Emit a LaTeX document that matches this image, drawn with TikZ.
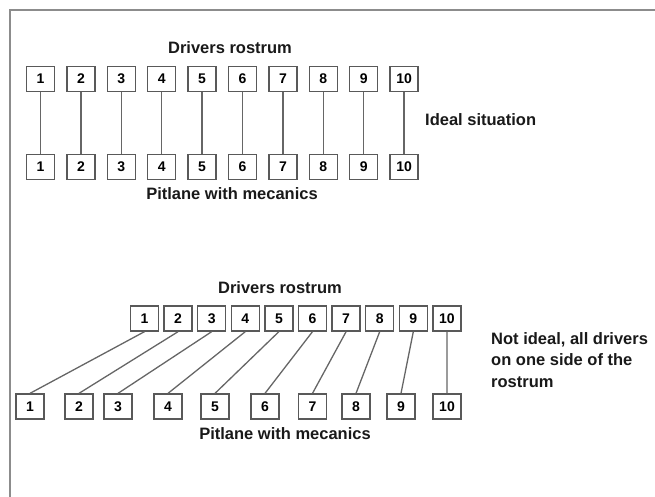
\documentclass[tikz,border=0pt]{standalone}
\usepackage{fontspec}
\setmainfont{Liberation Sans}
\usetikzlibrary{positioning}

\begin{document}
\begin{tikzpicture} [x = 1pt, y = -1pt, on grid,
    slot/.style = {draw = black!65, line width = 1.3pt, minimum width = 28pt, minimum height = 25pt,
                   inner sep = 0pt, text = black, font = \bfseries\fontsize{14}{14}\selectfont},
    txt/.style = {text = black!90, inner sep = 0pt, font = \bfseries\fontsize{16.5}{21.5}\selectfont},
    link/.style = {draw = black!60, line width = 1.3pt}]

    \useasboundingbox (0,0) rectangle (655,497);
    \draw [black!45, line width = 2.2pt] (10,497) -- (10,10) -- (655,10);

    % ideal situation
    \node (t1) [slot] at (40.5,79) {1};
    \node (b1) [slot] at (40.5,167) {1};
    \foreach \i [count = \j] in {2,...,10} {
        \node (t\i) [slot, right = 40.4pt of t\j] {\i};
        \node (b\i) [slot, right = 40.4pt of b\j] {\i};
    }
    \foreach \i in {1,...,10}
        \draw [link] (t\i) -- (b\i);

    \node (ros1) [txt] at (230,48) {Drivers rostrum};
    \node (pit1) [txt] at (232,194) {Pitlane with mecanics};
    \node (ideal) [txt, anchor = west] at (425,120) {Ideal situation};

    % not ideal
    \node (s1) [slot] at (144.5,318.5) {1};
    \foreach \i [count = \j] in {2,...,10}
        \node (s\i) [slot, right = 33.6pt of s\j] {\i};
    \foreach \i/\x in {1/30, 2/79, 3/118, 4/168, 5/215, 6/265, 7/312.5, 8/356, 9/401, 10/447}
        \node (p\i) [slot] at (\x,406.5) {\i};
    \foreach \i in {1,...,10}
        \draw [link] (s\i.south) -- (p\i.north);

    \node (ros2) [txt] at (280,288) {Drivers rostrum};
    \node (pit2) [txt] at (285,434) {Pitlane with mecanics};
    \node (notideal) [txt, anchor = west, align = left] at (491,360)
        {Not ideal, all drivers\\on one side of the\\rostrum};
\end{tikzpicture}
\end{document}
